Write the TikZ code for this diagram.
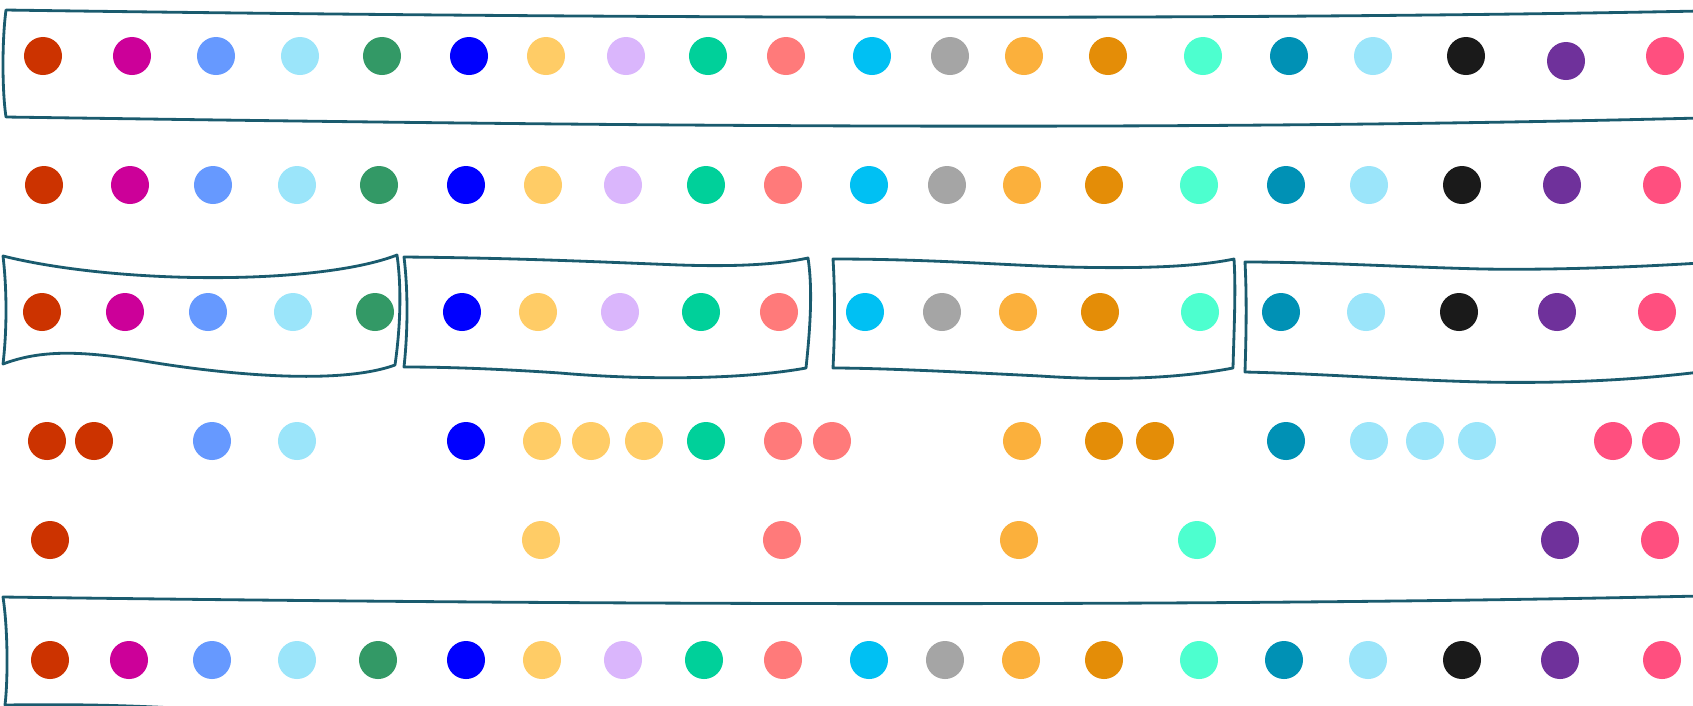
\documentclass[tikz,border=0pt]{standalone}
\usepackage{xcolor}
\usepackage{tikz}
\usetikzlibrary{positioning,calc}

\definecolor{cRust}{HTML}{CC3300}
\definecolor{cMagenta}{HTML}{CC0099}
\definecolor{cCorn}{HTML}{6699FF}
\definecolor{cIce}{HTML}{9BE5FA}
\definecolor{cGreen}{HTML}{339966}
\definecolor{cBlue}{HTML}{0000FF}
\definecolor{cSand}{HTML}{FFCC66}
\definecolor{cLilac}{HTML}{DAB6FC}
\definecolor{cJade}{HTML}{00D09A}
\definecolor{cSalmon}{HTML}{FF7A7A}
\definecolor{cSky}{HTML}{00C0F3}
\definecolor{cGrey}{HTML}{A5A5A5}
\definecolor{cAmber}{HTML}{FBB03C}
\definecolor{cOchre}{HTML}{E48D07}
\definecolor{cMint}{HTML}{4DFFCF}
\definecolor{cTeal}{HTML}{0091B5}
\definecolor{cBlack}{HTML}{1A1A1A}
\definecolor{cPurple}{HTML}{6F319B}
\definecolor{cPink}{HTML}{FF4F7F}
\definecolor{boxline}{HTML}{1A5B6E}

\begin{document}
\begin{tikzpicture}[
    x=0.01cm, y=-0.01cm,
    bead/.style={circle, fill=#1, inner sep=0pt, minimum size=3.8mm},
    grp/.style={draw=boxline, line width=0.8pt, line join=round}
]
\useasboundingbox (0,0) rectangle (1693,705);
\begin{scope}
\clip (0,0) rectangle (1693,705);

% row 1: all beads in one sack
\draw[grp] (1700,11) .. controls (1300,19) and (700,20) .. (6,10)
    .. controls (2,40) and (2,90) .. (6,117)
    .. controls (500,124) and (1100,133) .. (1700,118);
\foreach \x/\c [count=\i] in {43/cRust,132/cMagenta,216/cCorn,300/cIce,382/cGreen,
    469/cBlue,546/cSand,626/cLilac,708/cJade,786/cSalmon,872/cSky,950/cGrey,
    1024/cAmber,1108/cOchre,1203/cMint,1289/cTeal,1373/cIce,1466/cBlack}
  \node[bead=\c] (ra\i) at (\x,56) {};
\node[bead=cPurple] (ra19) at (1566,61) {};
\node[bead=cPink] (ra20) at (1665,56) {};

% row 2: loose beads
\foreach \x/\c [count=\i] in {44/cRust,130/cMagenta,213/cCorn,297/cIce,379/cGreen,
    466/cBlue,543/cSand,623/cLilac,706/cJade,783/cSalmon,869/cSky,947/cGrey,
    1022/cAmber,1104/cOchre,1199/cMint,1286/cTeal,1369/cIce,1462/cBlack,
    1562/cPurple,1662/cPink}
  \node[bead=\c] (rb\i) at (\x,185) {};

% row 3: four sacks of five
\draw[grp] (3,256) .. controls (120,285) and (320,285) .. (397,255)
    .. controls (402,290) and (400,330) .. (395,365)
    .. controls (340,385) and (230,375) .. (150,362)
    .. controls (80,350) and (40,350) .. (3,364)
    .. controls (7,330) and (7,290) .. cycle;
\draw[grp] (404,257) .. controls (520,258) and (600,262) .. (680,265)
    .. controls (740,267) and (780,264) .. (808,258)
    .. controls (813,290) and (810,330) .. (806,368)
    .. controls (740,380) and (640,380) .. (560,373)
    .. controls (500,369) and (450,367) .. (404,367)
    .. controls (408,330) and (408,290) .. cycle;
\draw[grp] (833,259) .. controls (930,259) and (1000,265) .. (1068,267)
    .. controls (1150,269) and (1200,266) .. (1234,259)
    .. controls (1236,290) and (1234,330) .. (1233,368)
    .. controls (1170,380) and (1100,380) .. (1040,376)
    .. controls (960,372) and (880,368) .. (833,368)
    .. controls (835,330) and (835,290) .. cycle;
\draw[grp] (1700,263) .. controls (1620,268) and (1540,270) .. (1483,269)
    .. controls (1400,267) and (1320,262) .. (1245,262)
    .. controls (1247,300) and (1246,340) .. (1245,372)
    .. controls (1330,374) and (1400,380) .. (1483,382)
    .. controls (1580,384) and (1650,378) .. (1700,372);
\foreach \x/\c [count=\i] in {42/cRust,125/cMagenta,208/cCorn,293/cIce,375/cGreen,
    462/cBlue,538/cSand,620/cLilac,701/cJade,779/cSalmon,865/cSky,942/cGrey,
    1018/cAmber,1100/cOchre,1200/cMint,1281/cTeal,1366/cIce,1459/cBlack,
    1557/cPurple,1657/cPink}
  \node[bead=\c] (rc\i) at (\x,312) {};

% row 4
\foreach \x/\c [count=\i] in {47/cRust,94/cRust,212/cCorn,297/cIce,466/cBlue,
    542/cSand,591/cSand,644/cSand,706/cJade,783/cSalmon,832/cSalmon,
    1022/cAmber,1104/cOchre,1155/cOchre,1286/cTeal,1369/cIce,1425/cIce,
    1477/cIce,1613/cPink,1661/cPink}
  \node[bead=\c] (rd\i) at (\x,441) {};

% row 5
\foreach \x/\c [count=\i] in {50/cRust,541/cSand,782/cSalmon,1019/cAmber,
    1197/cMint,1560/cPurple,1660/cPink}
  \node[bead=\c] (re\i) at (\x,540) {};

% row 6: back in one sack
\draw[grp] (1700,596) .. controls (1200,607) and (600,605) .. (3,597)
    .. controls (8,630) and (8,680) .. (5,705)
    .. controls (80,704) and (140,705) .. (240,712);
\foreach \x/\c [count=\i] in {50/cRust,129/cMagenta,212/cCorn,297/cIce,378/cGreen,
    466/cBlue,542/cSand,623/cLilac,704/cJade,783/cSalmon,869/cSky,945/cGrey,
    1021/cAmber,1104/cOchre,1199/cMint,1284/cTeal,1368/cIce,1462/cBlack,
    1560/cPurple,1662/cPink}
  \node[bead=\c] (rf\i) at (\x,660) {};
\end{scope}
\end{tikzpicture}
\end{document}
